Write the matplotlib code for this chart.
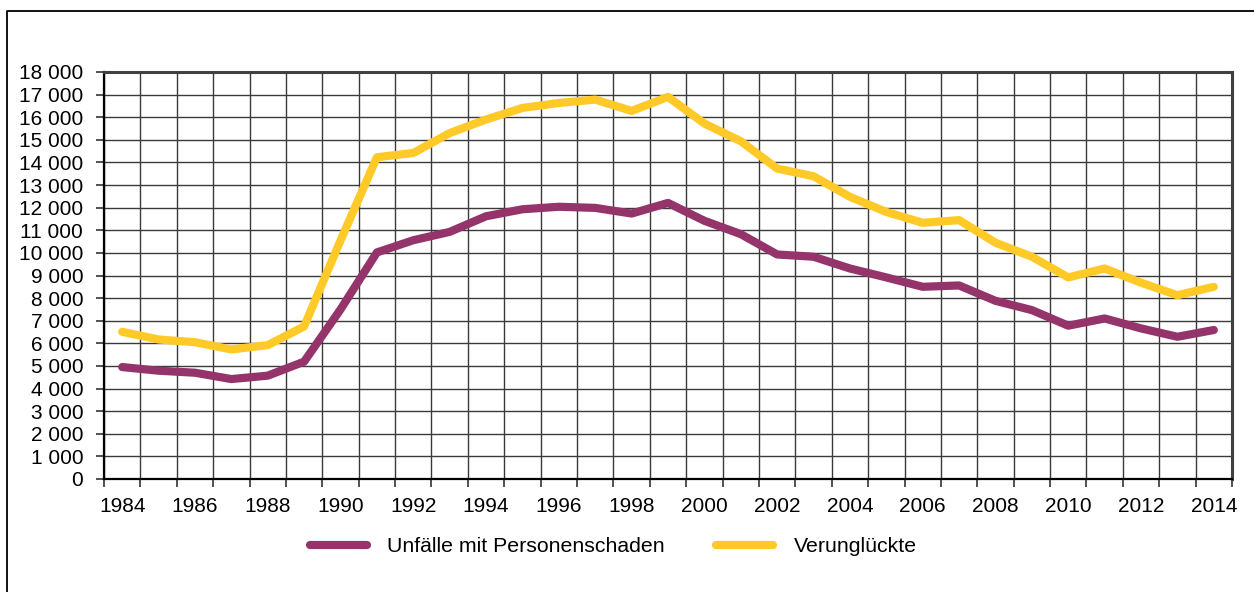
import numpy as np
import matplotlib.pyplot as plt
from matplotlib.lines import Line2D
from matplotlib.ticker import FuncFormatter

plt.rcParams['font.family'] = ['Liberation Sans', 'DejaVu Sans']

years = list(range(1984, 2015))
unfaelle = [4950, 4790, 4700, 4420, 4570, 5190, 7500, 10020, 10560, 10930,
            11620, 11930, 12040, 11990, 11740, 12210, 11420, 10830, 9930, 9830,
            9310, 8915, 8500, 8560, 7880, 7470, 6780, 7100, 6660, 6290, 6590]
verunglueckte = [6510, 6170, 6050, 5730, 5920, 6750, 10550, 14230, 14420, 15300,
                 15900, 16410, 16630, 16780, 16280, 16900, 15720, 14940, 13730, 13390,
                 12480, 11810, 11330, 11450, 10450, 9830, 8915, 9310, 8680, 8130, 8500]

purple = '#94346A'
yellow = '#FFC927'

fig = plt.figure(figsize=(12.54, 5.92), dpi=100)
ax = fig.add_axes([104 / 1254, 1 - 479 / 592, (1232 - 104) / 1254, (479 - 72) / 592])

x = np.arange(len(years))
ax.plot(x, unfaelle, color=purple, lw=5.9, solid_capstyle='round', label='Unfälle mit Personenschaden', zorder=3)
ax.plot(x, verunglueckte, color=yellow, lw=5.9, solid_capstyle='round', label='Verunglückte', zorder=3)

ax.set_xlim(-0.5, len(years) - 0.5)
ax.set_ylim(0, 18000)
ax.set_yticks(np.arange(0, 18001, 1000))
ax.yaxis.set_major_formatter(FuncFormatter(lambda v, p: f'{int(v):,}'.replace(',', ' ')))

# ticks + grid on category boundaries, labels at category centres
ax.set_xticks(np.arange(-0.5, len(years), 1))
ax.set_xticklabels([])
ax.set_xticks(x[::2], minor=True)
ax.set_xticklabels([str(y) for y in years[::2]], minor=True)
ax.tick_params(axis='x', which='minor', length=0, pad=13, labelsize=15)
ax.tick_params(axis='x', which='major', length=6, width=1.2, color='#333333')
ax.tick_params(axis='y', length=6, width=1.2, color='#333333', pad=9, labelsize=15)

ax.grid(True, which='major', color='#3a3a3a', lw=1.0)
ax.set_axisbelow(True)

for side in ['left', 'bottom']:
    ax.spines[side].set_color('black')
    ax.spines[side].set_linewidth(1.6)
for side in ['top', 'right']:
    ax.spines[side].set_color('#404040')
    ax.spines[side].set_linewidth(2.2)

fig.legend(loc='center', bbox_to_anchor=(0.489, 1 - 547 / 592), ncol=2, frameon=False,
           fontsize=15.3, handlelength=2.7, handletextpad=0.95, columnspacing=2.4)

# outer frame (only left and top edges visible)
fig.add_artist(Line2D([7 / 1254, 7 / 1254, 1.01], [-0.01, 1 - 11 / 592, 1 - 11 / 592],
                      transform=fig.transFigure, color='black', lw=1.3))

fig.savefig('out.png', dpi=100)
